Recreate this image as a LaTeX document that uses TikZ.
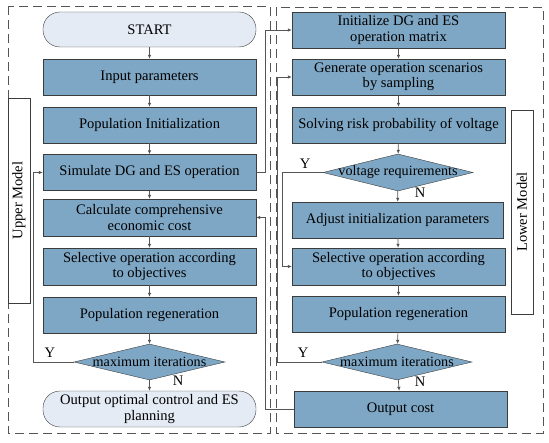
\documentclass[tikz,border=0pt]{standalone}
\usepackage{fontspec}
\setmainfont{Liberation Serif}
\usetikzlibrary{shapes,arrows.meta}
\definecolor{boxblue}{RGB}{126,167,197}
\definecolor{termfill}{RGB}{228,235,244}
\definecolor{boxline}{RGB}{60,60,60}
\definecolor{linegray}{RGB}{85,85,85}

\begin{document}
\begin{tikzpicture}[x=1bp,y=-1bp]
\tikzstyle{proc}=[rectangle,draw=boxline,fill=boxblue,minimum width=213bp,minimum height=36bp,align=center,inner sep=1bp,font=\fontsize{14.6}{15.5}\selectfont]
\tikzstyle{term}=[proc,rounded corners=17bp,fill=termfill]
\tikzstyle{dec}=[diamond,draw=boxline,fill=boxblue,inner sep=0pt,minimum width=151bp,minimum height=36bp,label={[font=\fontsize{14.2}{15}\selectfont]center:#1}]
\tikzstyle{modelbox}=[rectangle,draw=boxline,fill=white,minimum height=22bp,rotate=90,font=\fontsize{14.6}{15.5}\selectfont]
\tikzstyle{frame}=[draw=linegray,dash pattern=on 9bp off 5bp,line width=0.7bp]
\tikzstyle{arr}=[draw=linegray,line width=0.7bp,-{Latex[length=4bp,width=3.5bp]}]
\tikzstyle{yn}=[font=\fontsize{14.6}{15.5}\selectfont]
\useasboundingbox (0,0) rectangle (549,443);

% frames
\draw[frame] (8,6) rectangle (270,433);
\draw[frame] (276,7) rectangle (543,433);
\node[modelbox,minimum width=205bp] (upper) at (19,200.5) {Upper Model};
\node[modelbox,minimum width=204bp] (lower) at (522,212) {Lower Model};

% upper model
\node[term,minimum height=35bp] (start) at (149.5,29.5) {START};
\node[proc] (inp) at (149.5,77) {Input parameters};
\node[proc] (pop) at (149.5,125) {Population Initialization};
\node[proc] (sim) at (149.5,172.5) {Simulate DG and ES operation};
\node[proc,minimum height=37bp] (calc) at (149.5,217.5) {Calculate comprehensive\\economic cost};
\node[proc,minimum height=37bp] (sel) at (149.5,266.5) {Selective operation according\\to objectives};
\node[proc] (reg) at (149.5,315) {Population regeneration};
\node[dec=maximum iterations] (dmax) at (149.5,362) {};
\node[term] (out) at (149.5,409) {Output optimal control and ES\\planning};

% lower model
\node[proc] (init) at (398.5,30) {Initialize DG and ES\\operation matrix};
\node[proc] (gen) at (398.5,77) {Generate operation scenarios\\by sampling};
\node[proc] (solv) at (398.5,125) {Solving risk probability of voltage};
\node[dec=voltage requirements,minimum width=150bp,minimum height=37bp] (dvol) at (398,172.5) {};
\node[proc,minimum width=211bp] (adj) at (397.5,220) {Adjust initialization parameters};
\node[proc,minimum height=37bp] (selb) at (398.5,266.5) {Selective operation according\\to objectives};
\node[proc] (regb) at (398.5,314) {Population regeneration};
\node[dec=maximum iterations,minimum width=150bp] (dmaxb) at (397,362) {};
\node[proc] (cost) at (400.5,409) {Output cost};

% flow
\foreach \a/\b in {start/inp,inp/pop,pop/sim,sim/calc,calc/sel,sel/reg,reg/dmax,dmax/out,
  init/gen,gen/solv,solv/dvol,dvol/adj,adj/selb,selb/regb,regb/dmaxb,dmaxb/cost}
  \draw[arr] (\a) -- (\b);

% loops
\draw[arr] (dmax.west) -- ++(-40,0) |- (sim.west);
\draw[arr] (dvol.west) -- ++(-40,0) |- (selb.west);
\draw[arr] (dmaxb.west) -- ++(-44,0) |- (gen.west);
\draw[arr] (sim.east) -- ++(9,0) |- (init.west);
\draw[arr] (cost.west) -- ++(-28,0) |- (calc.east);

\node[yn] at (50,353) {Y};
\node[yn] at (178,381) {N};
\node[yn] at (305,164) {Y};
\node[yn] at (420,193) {N};
\node[yn] at (303,353) {Y};
\node[yn] at (420,382) {N};
\end{tikzpicture}
\end{document}
